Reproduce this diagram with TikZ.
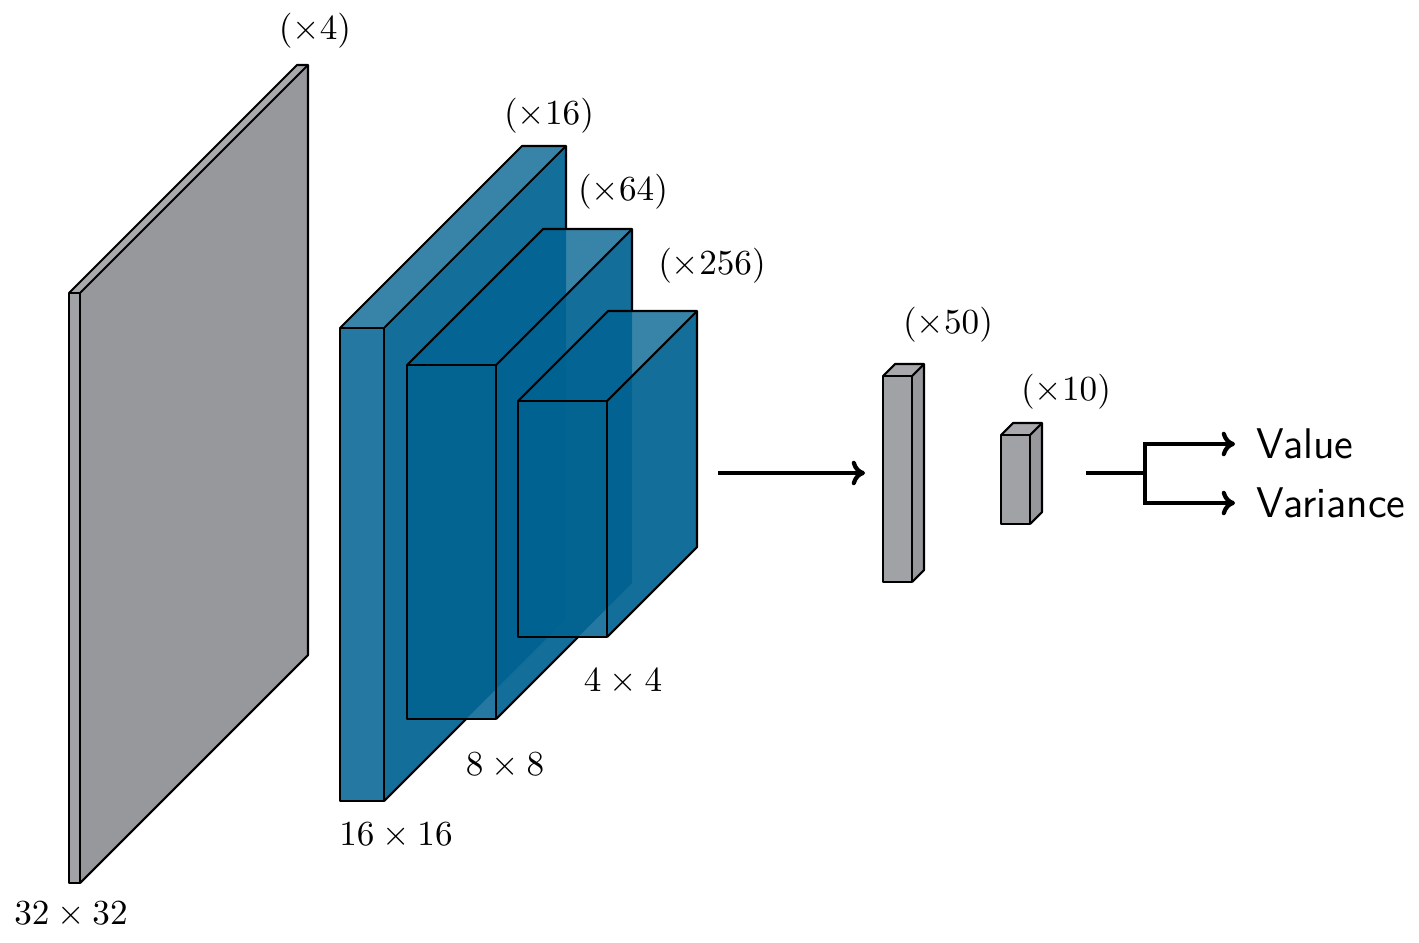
\documentclass[tikz,border=0pt]{standalone}
\usetikzlibrary{arrows.meta}

\definecolor{convblue}{RGB}{0,98,145}
\definecolor{densegray}{RGB}{161,162,166}

\tikzset{
    edge/.style={draw=black, line width=0.6pt, line join=round},
    bluefront/.style={fill=convblue, fill opacity=0.86},
    bluetop/.style={fill=convblue, fill opacity=0.78},
    blueside/.style={fill=convblue, fill opacity=0.92},
    grayfront/.style={fill=densegray},
    graytop/.style={fill=densegray!92!white},
    grayside/.style={fill=densegray!94!black},
    flow/.style={line width=1.2pt, -{To[length=3.8pt,width=7pt]}},
    outlabel/.style={anchor=west, inner xsep=6pt, font=\fontsize{12.2}{14.5}\selectfont\sffamily},
}

% faces of a block: x, y of front top-left, width, height, depth, colour
\newcommand{\boxfaces}[6]{%
    \fill[#6front] (#1,#2) rectangle ++(#3,#4);
    \fill[#6top] (#1,#2) -- ++(#3,0) -- ++(#5,-#5) -- ++(-#3,0) -- cycle;
    \fill[#6side] (#1+#3,#2) -- ++(#5,-#5) -- ++(0,#4) -- ++(-#5,#5) -- cycle;
}
% visible edges of a block
\newcommand{\boxedges}[5]{%
    \draw[edge] (#1,#2) rectangle ++(#3,#4);
    \draw[edge] (#1,#2) -- ++(#5,-#5) -- ++(#3,0) -- ++(0,#4) -- ++(-#5,#5);
    \draw[edge] (#1+#3,#2) -- ++(#5,-#5);
}
% clip away the outline of the next block
\newcommand{\hidebehind}[5]{%
    \clip (-10,-10) -- (-10,953) -- (1429,953) -- (1429,-10) -- cycle
        (#1,#2+#4) -- (#1,#2) -- ++(#5,-#5) -- ++(#3,0) -- ++(0,#4) -- ++(-#5,#5) -- cycle;
}

\begin{document}
\begin{tikzpicture}[x=0.01cm, y=-0.01cm]
    \useasboundingbox (0,0) rectangle (1419,943);

    % input planes
    \boxfaces{69}{293}{11}{590}{228}{gray}
    \boxedges{69}{293}{11}{590}{228}
    \node (incount) at (315,31) {$(\times 4)$};
    \node (insize) at (71,915) {$32 \times 32$};

    % convolution blocks
    \boxfaces{340}{328}{44}{473}{182}{blue}
    \begin{scope}
        \hidebehind{407}{365}{89}{354}{136}
        \boxedges{340}{328}{44}{473}{182}
    \end{scope}
    \boxfaces{407}{365}{89}{354}{136}{blue}
    \begin{scope}
        \hidebehind{518}{401}{89}{236}{90}
        \boxedges{407}{365}{89}{354}{136}
    \end{scope}
    \boxfaces{518}{401}{89}{236}{90}{blue}
    \boxedges{518}{401}{89}{236}{90}

    \node (conva) at (549,116) {$(\times 16)$};
    \node (convasize) at (396,836) {$16 \times 16$};
    \node (convb) at (623,192) {$(\times 64)$};
    \node (convbsize) at (505,766) {$8 \times 8$};
    \node (convc) at (712,266) {$(\times 256)$};
    \node (convcsize) at (623,682) {$4 \times 4$};

    % dense layers
    \boxfaces{883}{376}{29}{206}{12}{gray}
    \boxedges{883}{376}{29}{206}{12}
    \boxfaces{1001}{435}{29}{89}{12}{gray}
    \boxedges{1001}{435}{29}{89}{12}
    \node (densea) at (948,325) {$(\times 50)$};
    \node (denseb) at (1066,392) {$(\times 10)$};

    % connections
    \coordinate (convout) at (718,473);
    \coordinate (densein) at (865,473);
    \draw[flow] (convout) -- (densein);

    \coordinate (denseout) at (1086,473);
    \coordinate (split) at (1145,473);
    \node[outlabel] (value) at (1235,444) {Value};
    \node[outlabel] (variance) at (1235,503) {Variance};
    \draw[line width=1.2pt] (denseout) -- (split);
    \draw[flow] (split) |- (value.west);
    \draw[flow] (split) |- (variance.west);
\end{tikzpicture}
\end{document}
